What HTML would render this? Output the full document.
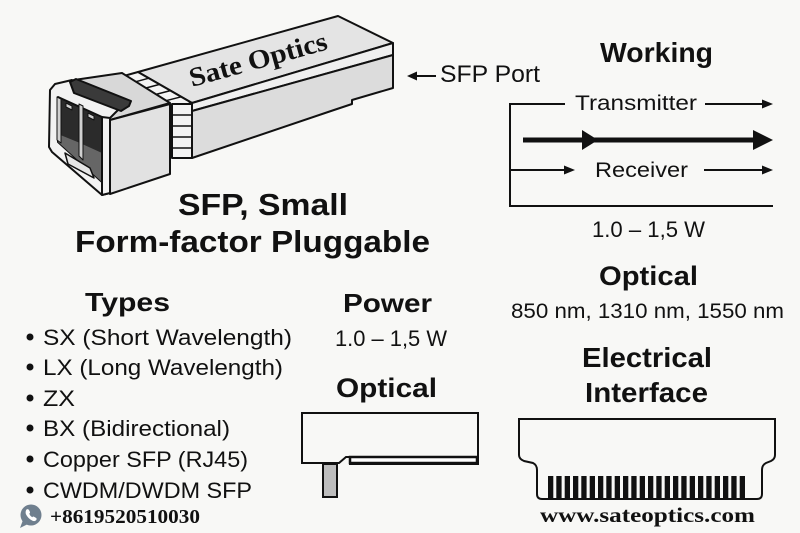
<!DOCTYPE html>
<html><head><meta charset="utf-8"><style>
html,body{margin:0;padding:0;background:#f8f8f6;}
svg{display:block}
.s{font-family:"Liberation Sans",Arial,sans-serif;fill:#111}
.b{font-weight:bold}
.r{font-family:"Liberation Serif","Times New Roman",serif;font-weight:bold;fill:#111}
</style></head><body>
<svg width="800" height="533" viewBox="0 0 800 533" xmlns="http://www.w3.org/2000/svg">
<rect width="800" height="533" fill="#f8f8f6"/>

<!-- SFP module -->
<g stroke="#111" stroke-width="2" stroke-linejoin="round">
  <polygon points="138,72 338,16 393,43 192,103" fill="#e4e4e4"/>
  <polygon points="192,103 393,43 393,55 192,111" fill="#efefef"/>
  <polygon points="192,111 393,55 393,88 352,100 352,104 334,110 192,158" fill="#dcdcdc"/>
  <polygon points="120,77 138,72 192,103 172,108" fill="#f4f4f4"/>
  <rect x="172" y="104" width="20" height="54" fill="#f4f4f4"/>
  <g stroke-width="1.5">
    <line x1="130.4" y1="83.2" x2="148.8" y2="78.2"/>
    <line x1="140.8" y1="89.4" x2="159.6" y2="84.4"/>
    <line x1="151.2" y1="95.6" x2="170.4" y2="90.6"/>
    <line x1="161.6" y1="101.8" x2="181.2" y2="96.8"/>
    <line x1="172" y1="115" x2="192" y2="115"/>
    <line x1="172" y1="126" x2="192" y2="126"/>
    <line x1="172" y1="137" x2="192" y2="137"/>
    <line x1="172" y1="148" x2="192" y2="148"/>
  </g>
  <polygon points="74,80 122,73 170,103 110,120" fill="#d8d8d8"/>
  <polygon points="110,120 170,104 170,174 110,194" fill="#e2e2e2"/>
  <!-- cage frame -->
  <polygon points="50,90 55,84 72,80 122,104 120,108 110,118 110,193 102,195 52,152 49,147" fill="#f2f2f2"/>
  <polygon points="58,97 102,117 102,182 58,142" fill="#2b2b2b"/>
  <polygon points="58,134 80,143 102,153 102,182 58,142" fill="#666" stroke="none"/>
  <polygon points="79,104 83,106 83,160 79,156" fill="#d0d0d0" stroke-width="1"/>
  <polygon points="57,97 61,99 61,143 57,140" fill="#d0d0d0" stroke-width="1"/>
  <polygon points="66,103 72,106 72,110 66,107" fill="#d0d0d0" stroke-width="1"/>
  <polygon points="88,113 94,116 94,120 88,117" fill="#d0d0d0" stroke-width="1"/>
  <polygon points="102,117 110,118 110,193 102,195" fill="#f2f2f2"/>
  <polygon points="65,153 90,168 94,178 68,164" fill="#e6e6e6" stroke-width="1.5"/>
  <!-- lever -->
  <polygon points="70,82 76,79 131,101 129,106 121,111 74,93" fill="#3a3a3a"/>
</g>
<text class="r" x="192" y="87" font-size="27" textLength="142" lengthAdjust="spacingAndGlyphs" transform="rotate(-15.5 192 87)">Sate Optics</text>

<!-- SFP Port -->
<line x1="414" y1="76" x2="436" y2="76" stroke="#111" stroke-width="2"/>
<polygon points="407,76 417,71.5 417,80.5" fill="#111"/>
<text class="s" x="440" y="82" font-size="24" textLength="100" lengthAdjust="spacingAndGlyphs">SFP Port</text>

<!-- Titles -->
<text class="s b" x="178" y="215" font-size="31" textLength="170" lengthAdjust="spacingAndGlyphs">SFP, Small</text>
<text class="s b" x="75" y="252" font-size="31" textLength="355" lengthAdjust="spacingAndGlyphs">Form-factor Pluggable</text>

<!-- Working -->
<text class="s b" x="600" y="62" font-size="28" textLength="113" lengthAdjust="spacingAndGlyphs">Working</text>
<g stroke="#111" stroke-width="2" fill="none">
  <polyline points="565,104 510,104 510,206 773,206"/>
  <line x1="705" y1="104" x2="765" y2="104"/>
  <line x1="510" y1="170" x2="567" y2="170"/>
  <line x1="704" y1="170" x2="765" y2="170"/>
  <line x1="523" y1="140" x2="758" y2="140" stroke-width="5"/>
</g>
<g fill="#111">
  <polygon points="762,99.5 773,104 762,108.5"/>
  <polygon points="564,165.5 575,170 564,174.5"/>
  <polygon points="762,165.5 773,170 762,174.5"/>
  <polygon points="582,130 598,140 582,150"/>
  <polygon points="753,130 773,140 753,150"/>
</g>
<text class="s" x="575" y="110" font-size="21" textLength="122" lengthAdjust="spacingAndGlyphs">Transmitter</text>
<text class="s" x="595" y="177" font-size="21" textLength="93" lengthAdjust="spacingAndGlyphs">Receiver</text>
<text class="s" x="592" y="237" font-size="22" textLength="113" lengthAdjust="spacingAndGlyphs">1.0 – 1,5 W</text>

<!-- Right Optical -->
<text class="s b" x="599" y="285" font-size="27" textLength="99" lengthAdjust="spacingAndGlyphs">Optical</text>
<text class="s" x="511" y="318" font-size="21" textLength="273" lengthAdjust="spacingAndGlyphs">850 nm, 1310 nm, 1550 nm</text>
<text class="s b" x="582" y="367" font-size="28" textLength="130" lengthAdjust="spacingAndGlyphs">Electrical</text>
<text class="s b" x="585" y="402" font-size="28" textLength="123" lengthAdjust="spacingAndGlyphs">Interface</text>

<!-- Types -->
<text class="s b" x="85" y="311" font-size="26" textLength="85" lengthAdjust="spacingAndGlyphs">Types</text>
<g fill="#111">
  <circle cx="30" cy="337" r="3.5"/>
  <circle cx="30" cy="367" r="3.5"/>
  <circle cx="30" cy="398" r="3.5"/>
  <circle cx="30" cy="428" r="3.5"/>
  <circle cx="30" cy="459" r="3.5"/>
  <circle cx="30" cy="490" r="3.5"/>
</g>
<text class="s" x="43" y="345" font-size="22" textLength="249" lengthAdjust="spacingAndGlyphs">SX (Short Wavelength)</text>
<text class="s" x="43" y="375" font-size="22" textLength="240" lengthAdjust="spacingAndGlyphs">LX (Long Wavelength)</text>
<text class="s" x="43" y="406" font-size="22" textLength="32" lengthAdjust="spacingAndGlyphs">ZX</text>
<text class="s" x="43" y="436" font-size="22" textLength="187" lengthAdjust="spacingAndGlyphs">BX (Bidirectional)</text>
<text class="s" x="43" y="467" font-size="22" textLength="205" lengthAdjust="spacingAndGlyphs">Copper SFP (RJ45)</text>
<text class="s" x="43" y="498" font-size="22" textLength="209" lengthAdjust="spacingAndGlyphs">CWDM/DWDM SFP</text>

<!-- Power -->
<text class="s b" x="343" y="312" font-size="26" textLength="89" lengthAdjust="spacingAndGlyphs">Power</text>
<text class="s" x="335" y="346" font-size="22" textLength="112" lengthAdjust="spacingAndGlyphs">1.0 – 1,5 W</text>
<text class="s b" x="336" y="397" font-size="27" textLength="101" lengthAdjust="spacingAndGlyphs">Optical</text>

<!-- Optical drawing -->
<g stroke="#111" stroke-width="2" stroke-linejoin="miter">
  <path d="M302,413 H478 V464 H350 V457 H346 L339,463 H302 Z" fill="#f8f8f6"/>
  <rect x="350" y="457" width="127" height="6" fill="#fff" stroke-width="2.5"/>
  <rect x="323" y="464" width="14" height="33" fill="#bdbdbd"/>
</g>

<!-- Electrical drawing -->
<path d="M519,419 H775 V455 Q775,459 771,461 L766,463 Q762,465 762,470 V494 Q762,499 757,499 H542 Q537,499 537,494 V470 Q537,465 533,463 L524,461 Q519,459 519,455 Z" fill="#f8f8f6" stroke="#111" stroke-width="2"/>
<g fill="#111">
  <rect x="548.0" y="476" width="5.3" height="22"/>
  <rect x="556.3" y="476" width="5.3" height="22"/>
  <rect x="564.7" y="476" width="5.3" height="22"/>
  <rect x="573.0" y="476" width="5.3" height="22"/>
  <rect x="581.3" y="476" width="5.3" height="22"/>
  <rect x="589.7" y="476" width="5.3" height="22"/>
  <rect x="598.0" y="476" width="5.3" height="22"/>
  <rect x="606.3" y="476" width="5.3" height="22"/>
  <rect x="614.7" y="476" width="5.3" height="22"/>
  <rect x="623.0" y="476" width="5.3" height="22"/>
  <rect x="631.3" y="476" width="5.3" height="22"/>
  <rect x="639.7" y="476" width="5.3" height="22"/>
  <rect x="648.0" y="476" width="5.3" height="22"/>
  <rect x="656.3" y="476" width="5.3" height="22"/>
  <rect x="664.7" y="476" width="5.3" height="22"/>
  <rect x="673.0" y="476" width="5.3" height="22"/>
  <rect x="681.3" y="476" width="5.3" height="22"/>
  <rect x="689.7" y="476" width="5.3" height="22"/>
  <rect x="698.0" y="476" width="5.3" height="22"/>
  <rect x="706.3" y="476" width="5.3" height="22"/>
  <rect x="714.7" y="476" width="5.3" height="22"/>
  <rect x="723.0" y="476" width="5.3" height="22"/>
  <rect x="731.3" y="476" width="5.3" height="22"/>
  <rect x="739.7" y="476" width="5.3" height="22"/>
</g>

<text class="r" x="540" y="522" font-size="21" textLength="215" lengthAdjust="spacingAndGlyphs">www.sateoptics.com</text>

<!-- Phone -->
<circle cx="31" cy="515" r="10.5" fill="#6f7f8e"/>
<polygon points="23,520 20,528 28,524" fill="#6f7f8e"/>
<path d="M26.5,509.5 q1.5,-1 2.5,0.5 l1,2 q0.3,1 -0.7,1.6 q0.8,2.4 3,3.6 q0.8,-1 1.7,-0.5 l2,1.2 q1.2,0.8 0.2,2.2 q-1.5,1.6 -3.7,0.6 q-4.6,-2.2 -6.6,-6.6 q-0.8,-2.6 0.6,-4.6 z" fill="#fff"/>
<text class="r" x="50" y="523" font-size="20" textLength="150" lengthAdjust="spacingAndGlyphs">+8619520510030</text>
</svg>
</body></html>
